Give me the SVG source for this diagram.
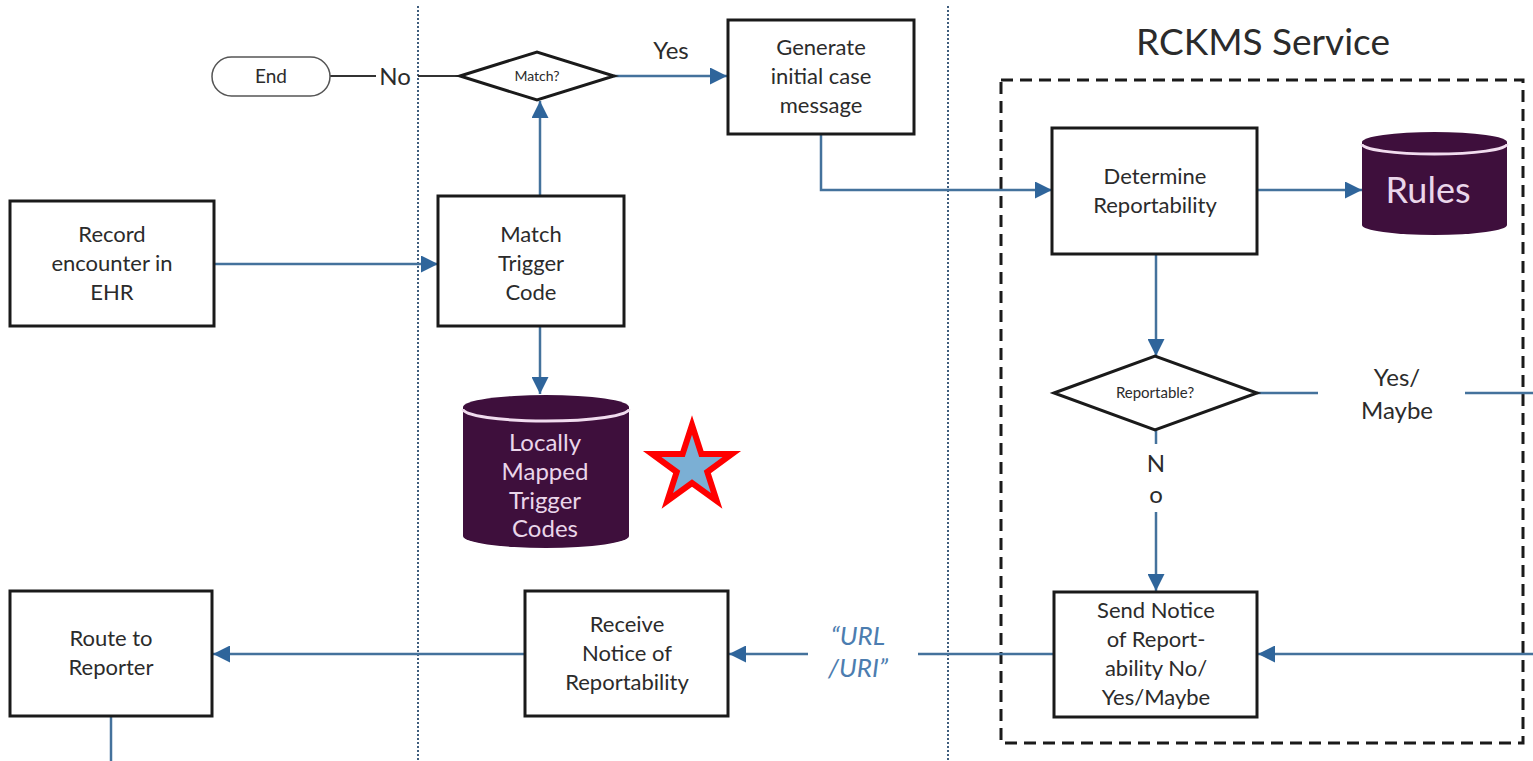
<svg xmlns="http://www.w3.org/2000/svg" width="1533" height="761" viewBox="0 0 1533 761">
  <style>
    .box { fill: #ffffff; stroke: #1a1a1a; stroke-width: 3; }
    .dia { fill: #ffffff; stroke: #1a1a1a; stroke-width: 3; }
    .lbl { font-family: Lato, "Noto Sans", sans-serif; font-size: 22px; fill: #2b2b2b; text-anchor: middle; }
    .small { font-family: Lato, "Noto Sans", sans-serif; fill: #2b2b2b; text-anchor: middle; }
    .edge { fill: none; stroke: #44729c; stroke-width: 2.5; }
    .dark { fill: none; stroke: #333333; stroke-width: 2; }
    .lane { fill: none; stroke: #3f5d7d; stroke-width: 2; stroke-dasharray: 2 2; }
    .db { fill: #3e0f3c; }
    .dbrim { fill: none; stroke: #f1dcef; stroke-width: 3; }
    .dbtxt { font-family: Lato, "Noto Sans", sans-serif; fill: #ead6ea; text-anchor: middle; }
    .elab { font-family: Lato, "Noto Sans", sans-serif; font-size: 24px; fill: #2b2b2b; text-anchor: middle; }
  </style>
  <defs>
    <marker id="arrow" viewBox="0 0 10 10" refX="10" refY="5" markerWidth="17" markerHeight="17" markerUnits="userSpaceOnUse" orient="auto">
      <path d="M0,0 L10,5 L0,10 z" fill="#2f659b"/>
    </marker>
  </defs>

  <rect width="1533" height="761" fill="#ffffff"/>

  <!-- swimlane separators -->
  <line class="lane" x1="418" y1="6" x2="418" y2="761"/>
  <line class="lane" x1="948" y1="6" x2="948" y2="761"/>

  <!-- service boundary -->
  <g id="rckms-service">
    <rect x="1001" y="80" width="522" height="663" fill="none" stroke="#1a1a1a" stroke-width="3" stroke-dasharray="12 7"/>
    <text x="1263" y="55" font-family="Lato, 'Noto Sans', sans-serif" font-size="37" fill="#2b2b2b" text-anchor="middle">RCKMS Service</text>
  </g>

  <!-- connectors -->
  <g id="connectors">
    <path class="edge" d="M214,264 H438" marker-end="url(#arrow)"/>
    <path class="edge" d="M540,196 V101" marker-end="url(#arrow)"/>
    <path class="edge" d="M540,326 V394" marker-end="url(#arrow)"/>
    <path class="dark" d="M460,76 H418"/>
    <path class="dark" d="M376,76 H330"/>
    <text class="elab" x="395" y="85">No</text>
    <path class="edge" d="M614,76 H727" marker-end="url(#arrow)"/>
    <text class="elab" x="671" y="59">Yes</text>
    <path class="edge" d="M821,134 V190 H1052" marker-end="url(#arrow)"/>
    <path class="edge" d="M1257,190 H1362" marker-end="url(#arrow)"/>
    <path class="edge" d="M1156,254 V356" marker-end="url(#arrow)"/>
    <path class="edge" d="M1257,393 H1318"/>
    <path class="edge" d="M1465,393 H1533"/>
    <text class="elab" x="1397" y="386">Yes/</text>
    <text class="elab" x="1397" y="419">Maybe</text>
    <path class="edge" d="M1156,430 V444"/>
    <text class="elab" x="1156" y="472">N</text>
    <text class="elab" x="1156" y="503">o</text>
    <path class="edge" d="M1156,512 V591" marker-end="url(#arrow)"/>
    <path class="edge" d="M1533,654 H1258" marker-end="url(#arrow)"/>
    <path class="edge" d="M1054,654 H918"/>
    <path class="edge" d="M808,654 H729" marker-end="url(#arrow)"/>
    <text x="858" y="645" font-family="Lato, 'Noto Sans', sans-serif" font-size="26" font-style="italic" fill="#4c7db0" text-anchor="middle">“URL</text>
    <text x="858" y="677" font-family="Lato, 'Noto Sans', sans-serif" font-size="26" font-style="italic" fill="#4c7db0" text-anchor="middle">/URI”</text>
    <path class="edge" d="M525,654 H213" marker-end="url(#arrow)"/>
    <path class="edge" d="M111,716 V761"/>
  </g>

  <!-- nodes -->
  <g id="end">
    <rect x="212" y="57" width="118" height="39" rx="19.5" fill="#ffffff" stroke="#555555" stroke-width="1.5"/>
    <text class="small" x="271" y="83" font-size="19">End</text>
  </g>

  <g id="match-decision">
    <polygon class="dia" points="460,76 537,52 614,76 537,100"/>
    <text class="small" x="537" y="81" font-size="14">Match?</text>
  </g>

  <g id="generate">
    <rect class="box" x="728" y="20" width="186" height="114"/>
    <text class="lbl" x="821" y="55">Generate</text>
    <text class="lbl" x="821" y="84">initial case</text>
    <text class="lbl" x="821" y="113">message</text>
  </g>

  <g id="record">
    <rect class="box" x="10" y="201" width="204" height="125"/>
    <text class="lbl" x="112" y="242">Record</text>
    <text class="lbl" x="112" y="271">encounter in</text>
    <text class="lbl" x="112" y="300">EHR</text>
  </g>

  <g id="match-trigger">
    <rect class="box" x="438" y="196" width="186" height="130"/>
    <text class="lbl" x="531" y="242">Match</text>
    <text class="lbl" x="531" y="271">Trigger</text>
    <text class="lbl" x="531" y="300">Code</text>
  </g>

  <g id="trigger-codes">
    <path class="db" d="M463,407 A83,12 0 0 1 629,407 V536 A83,12 0 0 1 463,536 Z"/>
    <path class="dbrim" d="M463,409 A83,12 0 0 0 629,409"/>
    <text class="dbtxt" x="545" y="451" font-size="24">Locally</text>
    <text class="dbtxt" x="545" y="480" font-size="24">Mapped</text>
    <text class="dbtxt" x="545" y="509" font-size="24">Trigger</text>
    <text class="dbtxt" x="545" y="537" font-size="24">Codes</text>
  </g>

  <g id="marker-star">
    <path d="M692,425 L701.4,454 L731.9,454 L707.3,472 L716.7,501 L692,483 L667.3,501 L676.7,472 L652.1,454 L682.6,454 Z" fill="#7bafd4" stroke="#ff0000" stroke-width="6" stroke-linejoin="miter"/>
  </g>

  <g id="determine">
    <rect class="box" x="1052" y="128" width="205" height="126"/>
    <text class="lbl" x="1155" y="184">Determine</text>
    <text class="lbl" x="1155" y="213">Reportability</text>
  </g>

  <g id="rules">
    <path class="db" d="M1362,142 A72,10 0 0 1 1507,142 V225 A72,10 0 0 1 1362,225 Z"/>
    <path class="dbrim" d="M1362,144 A72,10 0 0 0 1507,144" stroke-width="2.5"/>
    <text class="dbtxt" x="1428" y="203" font-size="36">Rules</text>
  </g>

  <g id="reportable-decision">
    <polygon class="dia" points="1054,393 1155,356 1257,393 1155,430"/>
    <text class="small" x="1155" y="398" font-size="15">Reportable?</text>
  </g>

  <g id="send-notice">
    <rect class="box" x="1054" y="592" width="203" height="125"/>
    <text class="lbl" x="1156" y="618">Send Notice</text>
    <text class="lbl" x="1156" y="647">of Report-</text>
    <text class="lbl" x="1156" y="676">ability No/</text>
    <text class="lbl" x="1156" y="705">Yes/Maybe</text>
  </g>

  <g id="receive">
    <rect class="box" x="525" y="591" width="203" height="125"/>
    <text class="lbl" x="627" y="632">Receive</text>
    <text class="lbl" x="627" y="661">Notice of</text>
    <text class="lbl" x="627" y="690">Reportability</text>
  </g>

  <g id="route">
    <rect class="box" x="10" y="591" width="202" height="125"/>
    <text class="lbl" x="111" y="646">Route to</text>
    <text class="lbl" x="111" y="675">Reporter</text>
  </g>
</svg>
